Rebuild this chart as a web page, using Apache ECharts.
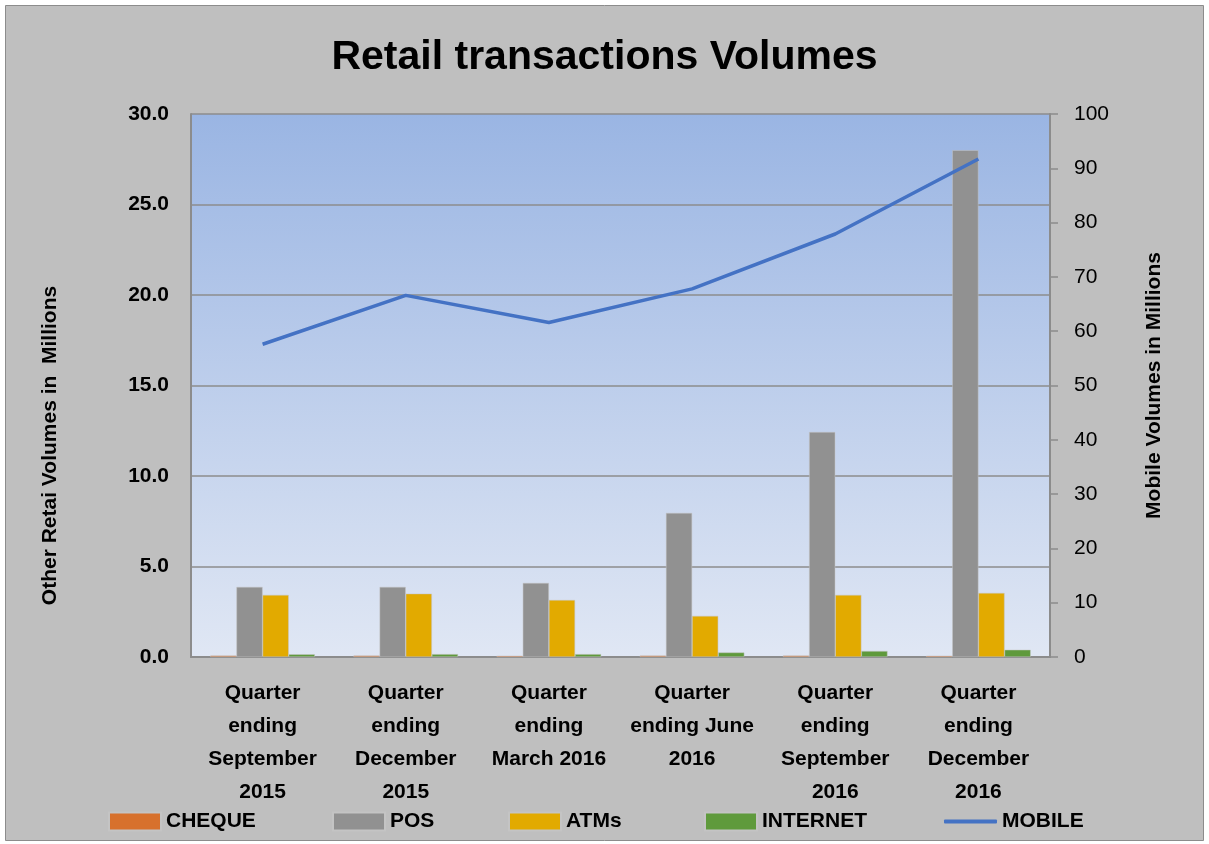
<!DOCTYPE html>
<html>
<head>
<meta charset="utf-8">
<script src="https://cdn.jsdelivr.net/npm/echarts@6/dist/echarts.min.js"></script>
<style>
  html, body { margin: 0; padding: 0; background: #fff; }
  #chart { width: 1209px; height: 844px; }
</style>
</head>
<body>
<div id="chart"></div>
<script>
// categories and values
const quarters = [
  'Quarter\nending\nSeptember\n2015',
  'Quarter\nending\nDecember\n2015',
  'Quarter\nending\nMarch 2016',
  'Quarter\nending June\n2016',
  'Quarter\nending\nSeptember\n2016',
  'Quarter\nending\nDecember\n2016'
];
const cheque = [0.08, 0.08, 0.07, 0.08, 0.08, 0.07];
const pos = [3.87, 3.87, 4.09, 7.96, 12.43, 28.0];
const atms = [3.43, 3.5, 3.15, 2.27, 3.43, 3.54];
const internet = [0.15, 0.16, 0.16, 0.25, 0.33, 0.4];
const mobile = [57.6, 66.6, 61.6, 67.8, 77.9, 91.7];

const FONT = "'Liberation Sans Narrow', 'Liberation Sans', sans-serif";

const chart = echarts.init(document.getElementById('chart'));

// one legend per item so each sits where it does in the original
const legendAt = (name, left, icon, w, h) => ({
  data: [name],
  left: left,
  top: 806,
  icon: icon,
  itemWidth: w,
  itemHeight: h,
  itemGap: 6,
  textStyle: { fontFamily: FONT, fontWeight: 'bold', fontSize: 21, color: '#000' }
});

const barStyle = (color) => ({ color: color, borderColor: '#c4c4c4', borderWidth: 0.5 });

chart.setOption({
  animation: false,
  textStyle: { fontFamily: FONT },
  graphic: [{
    type: 'rect',
    z: -10,
    shape: { x: 5.5, y: 5.5, width: 1198, height: 835 },
    style: { fill: '#bfbfbf', stroke: '#8c8c8c', lineWidth: 1 }
  }],
  title: {
    text: 'Retail transactions Volumes',
    left: 'center',
    top: 32,
    textStyle: { fontFamily: FONT, fontWeight: 'bold', fontSize: 41, color: '#000' }
  },
  legend: [
    legendAt('CHEQUE', 103, 'rect', 52, 18),
    legendAt('POS', 327, 'rect', 52, 18),
    legendAt('ATMs', 503, 'rect', 52, 18),
    legendAt('INTERNET', 699, 'rect', 52, 18),
    legendAt('MOBILE', 939, 'roundRect', 53, 4)
  ],
  grid: {
    left: 191, right: 159, top: 114, bottom: 187,
    show: true,
    borderWidth: 0,
    backgroundColor: {
      type: 'linear', x: 0, y: 0, x2: 0, y2: 1,
      colorStops: [
        { offset: 0, color: '#9ab5e3' },
        { offset: 1, color: '#e0e7f4' }
      ]
    }
  },
  xAxis: {
    type: 'category',
    data: quarters,
    axisTick: { show: false },
    axisLine: { lineStyle: { color: '#8c8c8c', width: 2 } },
    axisLabel: {
      interval: 0,
      margin: 20,
      color: '#000',
      fontFamily: FONT,
      fontWeight: 'bold',
      fontSize: 21,
      lineHeight: 33
    }
  },
  yAxis: [{
    type: 'value',
    min: 0, max: 30, interval: 5,
    name: 'Other Retai Volumes in  Millions',
    nameLocation: 'middle',
    nameGap: 130,
    nameRotate: 90,
    nameTextStyle: { fontFamily: FONT, fontWeight: 'bold', fontSize: 21, color: '#000', padding: [0, 0, 0, -120] },
    axisLine: { show: true, lineStyle: { color: '#8c8c8c', width: 2 } },
    axisTick: { show: false },
    splitLine: { lineStyle: { color: '#8c8c8c', width: 1.5 } },
    axisLabel: {
      margin: 22,
      color: '#000',
      fontFamily: FONT,
      fontWeight: 'bold',
      fontSize: 21,
      formatter: (v) => v.toFixed(1)
    }
  }, {
    type: 'value',
    min: 0, max: 100, interval: 10,
    position: 'right',
    name: 'Mobile Volumes in Millions',
    nameLocation: 'middle',
    nameGap: 94,
    nameRotate: 90,
    nameTextStyle: { fontFamily: FONT, fontWeight: 'bold', fontSize: 21, color: '#000' },
    axisLine: { show: true, lineStyle: { color: '#8c8c8c', width: 2 } },
    axisTick: { show: true, length: 8, lineStyle: { color: '#8c8c8c', width: 1.5 } },
    splitLine: { show: false },
    axisLabel: {
      margin: 24,
      color: '#000',
      fontFamily: FONT,
      fontSize: 21
    }
  }],
  series: [
    { name: 'CHEQUE', type: 'bar', data: cheque, itemStyle: barStyle('#d7712d'), barGap: '0%', barCategoryGap: '27%' },
    { name: 'POS', type: 'bar', data: pos, itemStyle: barStyle('#919191') },
    { name: 'ATMs', type: 'bar', data: atms, itemStyle: barStyle('#e2aa00') },
    { name: 'INTERNET', type: 'bar', data: internet, itemStyle: barStyle('#5f9a3c') },
    {
      name: 'MOBILE', type: 'line', yAxisIndex: 1, data: mobile,
      symbol: 'none',
      lineStyle: { color: '#4472c4', width: 3.5 },
      itemStyle: { color: '#4472c4' }
    }
  ]
});
</script>
</body>
</html>
